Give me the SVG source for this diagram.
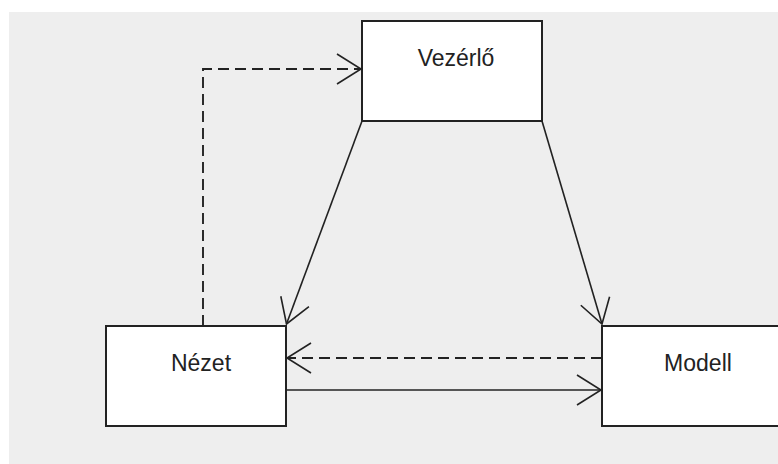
<svg xmlns="http://www.w3.org/2000/svg" width="778" height="464" viewBox="0 0 778 464">
  <style>
    .box { fill: #ffffff; stroke: #222222; stroke-width: 2; }
    .lbl { font-family: "Liberation Sans", Arial, sans-serif; font-size: 23px; fill: #222222; text-anchor: middle; }
    .ln { fill: none; stroke: #222222; stroke-width: 1.6; }
    .dash { stroke-dasharray: 11 6; stroke-width: 1.9; }
  </style>
  <defs>
    <marker id="open" markerUnits="userSpaceOnUse" markerWidth="40" markerHeight="40" viewBox="-30 -20 40 40" refX="0" refY="0" orient="auto">
      <path d="M -24 -15 L 0 0 L -24 15" fill="none" stroke="#222222" stroke-width="1.6"/>
    </marker>
  </defs>
  <rect x="0" y="0" width="778" height="464" fill="#ffffff"/>
  <rect x="9" y="12" width="769" height="452" fill="#eeeeee"/>

  <g id="vezerlo">
    <rect class="box" x="362" y="21" width="180" height="100"/>
    <text class="lbl" x="456" y="66">Vezérlő</text>
  </g>
  <g id="nezet">
    <rect class="box" x="106" y="326" width="180" height="100"/>
    <text class="lbl" x="201" y="371">Nézet</text>
  </g>
  <g id="modell">
    <rect class="box" x="602" y="326" width="190" height="100"/>
    <text class="lbl" x="698" y="371">Modell</text>
  </g>

  <g id="connectors">
    <path class="ln dash" d="M 203 326 L 203 69 L 361 69" marker-end="url(#open)"/>
    <path class="ln" d="M 362 121 L 286.5 324" marker-end="url(#open)"/>
    <path class="ln" d="M 542 121 L 602 324" marker-end="url(#open)"/>
    <path class="ln dash" d="M 602 358 L 287 358" marker-end="url(#open)"/>
    <path class="ln" d="M 286 390 L 601 390" marker-end="url(#open)"/>
  </g>
</svg>
